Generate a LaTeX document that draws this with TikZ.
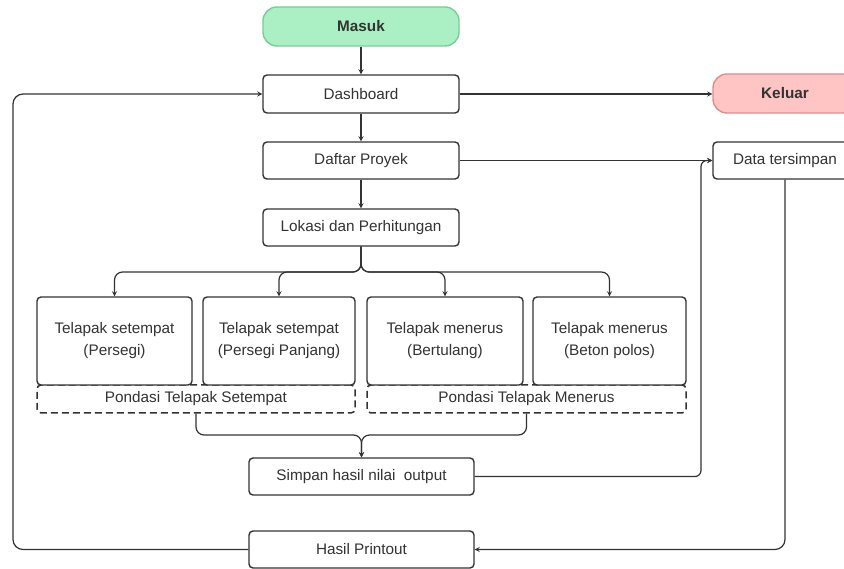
\documentclass[tikz,border=0pt]{standalone}
\usepackage{fontspec}
\setmainfont{Liberation Sans}
\usepackage{xcolor}

\definecolor{masukfill}{RGB}{170,240,196}
\definecolor{masukline}{RGB}{120,205,150}
\definecolor{keluarfill}{RGB}{255,196,196}
\definecolor{keluarline}{RGB}{225,140,140}
\definecolor{ink}{RGB}{51,51,51}

\begin{document}
\begin{tikzpicture}[x=1pt,y=-1pt,
    box/.style={draw=ink,line width=1.4pt,rounded corners=4pt,fill=white,text=ink,
      align=center,inner sep=0pt,font=\fontsize{15.3}{22}\selectfont},
    terminal/.style={box,rounded corners=14pt,font=\fontsize{15.3}{22}\selectfont\bfseries},
    group/.style={box,dashed,line width=1.5pt,dash pattern=on 7pt off 4pt},
    line/.style={draw=ink,line width=1.2pt,->,>=stealth}]
      \useasboundingbox (0,0) rectangle (844,569);
      \clip (0,0) rectangle (844,569);

      \node[terminal,fill=masukfill,draw=masukline,minimum width=196pt,minimum height=39pt] (masuk) at (361,26.5) {Masuk};
      \node[box,minimum width=196pt,minimum height=38pt] (dash) at (361,94) {Dashboard};
      \node[terminal,fill=keluarfill,draw=keluarline,minimum width=144pt,minimum height=39pt] (keluar) at (785,93.5) {Keluar};
      \node[box,minimum width=196pt,minimum height=37pt] (daftar) at (361,160.5) {Daftar Proyek};
      \node[box,minimum width=144pt,minimum height=37pt] (data) at (785,160.5) {Data tersimpan};
      \node[box,minimum width=196pt,minimum height=37pt] (lokasi) at (361,227.5) {Lokasi dan Perhitungan};

      \node[group,minimum width=318pt,minimum height=28pt] (setempat) at (196,399) {Pondasi Telapak Setempat};
      \node[group,minimum width=319pt,minimum height=28pt] (menerus) at (526.5,399) {Pondasi Telapak Menerus};
      \node[box,minimum width=155pt,minimum height=88pt] (tp1) at (114.5,341) {Telapak setempat\\(Persegi)};
      \node[box,minimum width=152pt,minimum height=88pt] (tp2) at (279,341) {Telapak setempat\\(Persegi Panjang)};
      \node[box,minimum width=156pt,minimum height=88pt] (tm1) at (445,341) {Telapak menerus\\(Bertulang)};
      \node[box,minimum width=153pt,minimum height=88pt] (tm2) at (609.5,341) {Telapak menerus\\(Beton polos)};

      \node[box,minimum width=225pt,minimum height=37pt] (simpan) at (361.5,476.5) {Simpan hasil nilai \ output};
      \node[box,minimum width=225pt,minimum height=37pt] (hasil) at (361.5,549.5) {Hasil Printout};

      \coordinate (split) at (361,272);
      \coordinate (merge) at (361.5,435);
      \coordinate (loopr) at (701,476.5);
      \coordinate (loopl) at (13,94);

      \draw[line] (masuk) -- (dash);
      \draw[line] (dash.east) -- (dash.east -| keluar.west);
      \draw[line] (dash) -- (daftar);
      \draw[line] (daftar) -- (lokasi);
      \draw[line] (daftar.east) -- (data.west);

      \draw[line,rounded corners=8pt] (lokasi.south) -- (split) -| (tp1.north);
      \draw[line,rounded corners=8pt] (lokasi.south) -- (split) -| (tp2.north);
      \draw[line,rounded corners=8pt] (lokasi.south) -- (split) -| (tm1.north);
      \draw[line,rounded corners=8pt] (lokasi.south) -- (split) -| (tm2.north);

      \draw[line,rounded corners=8pt] (setempat.south) |- (merge) -- (simpan.north);
      \draw[line,rounded corners=8pt] (menerus.south) |- (merge) -- (simpan.north);

      \draw[line,rounded corners=6pt] (simpan.east) -- (loopr) |- (data.west);
      \draw[line,rounded corners=10pt] (data.south) |- (hasil.east);
      \draw[line,rounded corners=10pt] (hasil.west) -| (loopl) -- (dash.west);
    \end{tikzpicture}
\end{document}
